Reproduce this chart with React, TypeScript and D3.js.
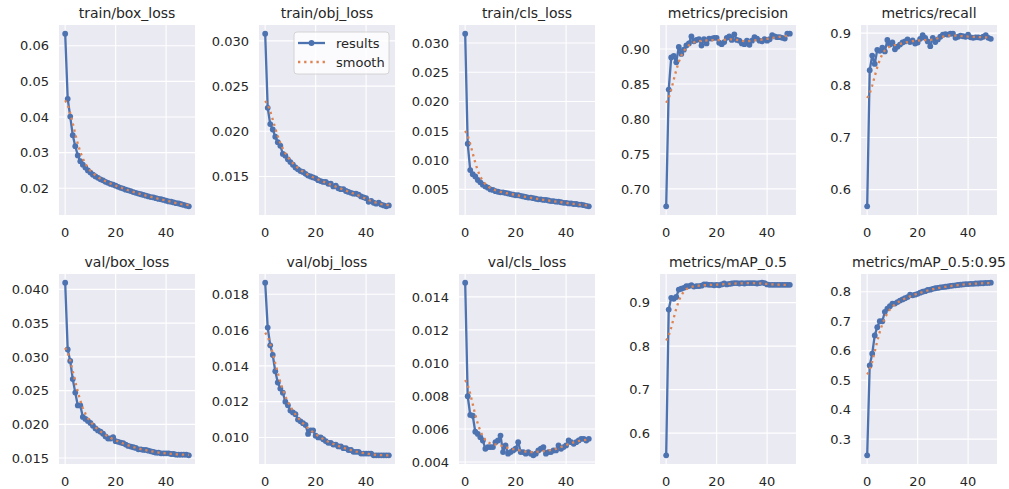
import React from "react";
import * as d3 from "d3";

// epochs 0..49
const epochs = d3.range(50);

const titles = [
  "train/box_loss", "train/obj_loss", "train/cls_loss", "metrics/precision", "metrics/recall",
  "val/box_loss", "val/obj_loss", "val/cls_loss", "metrics/mAP_0.5", "metrics/mAP_0.5:0.95",
];

const trainBox = [
  0.0634, 0.0451, 0.0401, 0.0349, 0.0318, 0.0292, 0.0276, 0.0266, 0.0258, 0.0250,
  0.0244, 0.0238, 0.0233, 0.0229, 0.0225, 0.0222, 0.0218, 0.0215, 0.0212, 0.0210,
  0.0207, 0.0204, 0.0201, 0.0199, 0.0196, 0.0194, 0.0192, 0.0189, 0.0187, 0.0185,
  0.0183, 0.0181, 0.0179, 0.0177, 0.0175, 0.0174, 0.0172, 0.0170, 0.0169, 0.0167,
  0.0165, 0.0163, 0.0162, 0.0160, 0.0158, 0.0157, 0.0155, 0.0153, 0.0151, 0.0149,
];
const trainObj = [
  0.0308, 0.0226, 0.0208, 0.0202, 0.0194, 0.0188, 0.0184, 0.0175, 0.0173, 0.0169,
  0.0166, 0.0163, 0.0160, 0.0158, 0.0156, 0.0155, 0.0153, 0.0151, 0.0150, 0.0149,
  0.0148, 0.0146, 0.0145, 0.0144, 0.0144, 0.0142, 0.0142, 0.0139, 0.0140, 0.0137,
  0.0136, 0.0136, 0.0134, 0.0133, 0.0132, 0.0131, 0.0131, 0.0130, 0.0128, 0.0127,
  0.0126, 0.0122, 0.0123, 0.0121, 0.0120, 0.0121, 0.0119, 0.0118, 0.0117, 0.0118,
];
const trainCls = [
  0.0316, 0.0128, 0.0083, 0.0076, 0.0072, 0.0066, 0.0062, 0.0058, 0.0055, 0.0053,
  0.0050, 0.0049, 0.0047, 0.0046, 0.0045, 0.0045, 0.0044, 0.0043, 0.0042, 0.0041,
  0.0040, 0.0040, 0.0039, 0.0038, 0.0037, 0.0036, 0.0036, 0.0035, 0.0034, 0.0033,
  0.0033, 0.0032, 0.0032, 0.0031, 0.0030, 0.0030, 0.0029, 0.0029, 0.0028, 0.0027,
  0.0027, 0.0026, 0.0026, 0.0025, 0.0025, 0.0024, 0.0024, 0.0023, 0.0022, 0.0021,
];
const precision = [
  0.675, 0.842, 0.888, 0.890, 0.881, 0.903, 0.893, 0.899, 0.905, 0.908,
  0.918, 0.911, 0.913, 0.914, 0.905, 0.914, 0.908, 0.915, 0.915, 0.916,
  0.916, 0.909, 0.907, 0.910, 0.916, 0.918, 0.913, 0.921, 0.913, 0.912,
  0.908, 0.907, 0.912, 0.906, 0.912, 0.917, 0.915, 0.912, 0.911, 0.914,
  0.912, 0.914, 0.920, 0.918, 0.917, 0.917, 0.916, 0.915, 0.922, 0.922,
];
const recall = [
  0.568, 0.829, 0.857, 0.841, 0.868, 0.866, 0.872, 0.865, 0.887, 0.878,
  0.882, 0.869, 0.874, 0.878, 0.882, 0.884, 0.888, 0.883, 0.886, 0.880,
  0.882, 0.889, 0.896, 0.891, 0.884, 0.875, 0.891, 0.883, 0.888, 0.893,
  0.897, 0.898, 0.897, 0.899, 0.899, 0.891, 0.893, 0.895, 0.894, 0.893,
  0.897, 0.892, 0.891, 0.892, 0.892, 0.891, 0.893, 0.896, 0.891, 0.889,
];
const valBox = [
  0.0410, 0.0311, 0.0294, 0.0267, 0.0247, 0.0228, 0.0228, 0.0211, 0.0208, 0.0205,
  0.0202, 0.0198, 0.0194, 0.0191, 0.0189, 0.0186, 0.0182, 0.0179, 0.0179, 0.0181,
  0.0175, 0.0174, 0.0173, 0.0172, 0.0170, 0.0168, 0.0167, 0.0166, 0.0165, 0.0163,
  0.0163, 0.0162, 0.0162, 0.0161, 0.0160, 0.0159, 0.0158, 0.0158, 0.0157, 0.0157,
  0.0157, 0.0157, 0.0156, 0.0156, 0.0155, 0.0155, 0.0155, 0.0155, 0.0155, 0.0154,
];
const valObj = [
  0.01865, 0.01614, 0.01515, 0.01461, 0.0137, 0.01307, 0.01273, 0.0125, 0.0120, 0.0118,
  0.0115, 0.0114, 0.0113, 0.0110, 0.0109, 0.0108, 0.0107, 0.0102, 0.0104, 0.0104,
  0.0101, 0.0100, 0.0100, 0.0099, 0.0098, 0.0097, 0.0097, 0.0096, 0.0096, 0.0095,
  0.0095, 0.0094, 0.0094, 0.0093, 0.0093, 0.0092, 0.0092, 0.0092, 0.0091, 0.0091,
  0.0091, 0.0091, 0.0091, 0.0090, 0.0090, 0.0090, 0.0090, 0.0090, 0.0090, 0.0090,
];
const valCls = [
  0.01486, 0.00798, 0.00685, 0.0068, 0.00583, 0.0057, 0.0055, 0.0053, 0.0048, 0.0049,
  0.0049, 0.0049, 0.0052, 0.0053, 0.0056, 0.0046, 0.0050, 0.0045, 0.0046, 0.0047,
  0.0048, 0.0052, 0.0046, 0.0046, 0.0045, 0.0046, 0.0045, 0.0044, 0.0045, 0.0047,
  0.0048, 0.0049, 0.0045, 0.0046, 0.0046, 0.0047, 0.0047, 0.0050, 0.0048, 0.0049,
  0.0050, 0.0053, 0.0052, 0.0051, 0.0052, 0.0053, 0.0054, 0.0054, 0.0053, 0.0054,
];
const map50 = [
  0.549, 0.884, 0.911, 0.909, 0.913, 0.930, 0.932, 0.934, 0.938, 0.938,
  0.940, 0.937, 0.938, 0.938, 0.939, 0.942, 0.942, 0.941, 0.941, 0.940,
  0.941, 0.940, 0.942, 0.944, 0.942, 0.943, 0.944, 0.945, 0.945, 0.944,
  0.945, 0.944, 0.945, 0.945, 0.945, 0.945, 0.944, 0.945, 0.946, 0.945,
  0.942, 0.941, 0.941, 0.941, 0.941, 0.941, 0.941, 0.941, 0.941, 0.941,
];
const map5095 = [
  0.245, 0.550, 0.590, 0.652, 0.680, 0.700, 0.700, 0.732, 0.743, 0.751,
  0.760, 0.760, 0.765, 0.770, 0.774, 0.778, 0.782, 0.790, 0.788, 0.790,
  0.793, 0.797, 0.800, 0.802, 0.806, 0.807, 0.810, 0.812, 0.813, 0.815,
  0.816, 0.817, 0.818, 0.820, 0.821, 0.822, 0.823, 0.824, 0.825, 0.826,
  0.826, 0.827, 0.827, 0.828, 0.828, 0.829, 0.829, 0.830, 0.830, 0.831,
];

const series = [trainBox, trainObj, trainCls, precision, recall, valBox, valObj, valCls, map50, map5095];

const yTickLabels = [
  ["0.02", "0.03", "0.04", "0.05", "0.06"],
  ["0.015", "0.020", "0.025", "0.030"],
  ["0.005", "0.010", "0.015", "0.020", "0.025", "0.030"],
  ["0.70", "0.75", "0.80", "0.85", "0.90"],
  ["0.6", "0.7", "0.8", "0.9"],
  ["0.015", "0.020", "0.025", "0.030", "0.035", "0.040"],
  ["0.010", "0.012", "0.014", "0.016", "0.018"],
  ["0.004", "0.006", "0.008", "0.010", "0.012", "0.014"],
  ["0.6", "0.7", "0.8", "0.9"],
  ["0.3", "0.4", "0.5", "0.6", "0.7", "0.8"],
];
const xTickLabels = ["0", "20", "40"];

// same as scipy gaussian_filter1d(y, sigma=3), mode 'reflect'
function gaussianSmooth(y: number[], sigma = 3) {
  const r = Math.floor(4 * sigma + 0.5);
  const w = d3.range(-r, r + 1).map((k) => Math.exp((-k * k) / (2 * sigma * sigma)));
  const sw = d3.sum(w);
  const n = y.length;
  const at = (i: number) => {
    let j = i;
    while (j < 0 || j >= n) {
      if (j < 0) j = -j - 1;
      if (j >= n) j = 2 * n - j - 1;
    }
    return y[j];
  };
  return y.map((_, i) => d3.sum(w.map((wk, k) => wk * at(i + k - r))) / sw);
}

const W = 1009;
const H = 489;
const colLeft = [59, 259, 459, 660, 861];
const rowTop = [25, 274];
const pw = 136;
const ph = 190;
const blue = "#4C72B0";
const orange = "#DD8452";
const textColor = "#262626";
const font = "DejaVu Sans, sans-serif";
const dots = "2.3 3.85";

function Panel({ idx }: { idx: number }) {
  const data = series[idx];
  const smooth = gaussianSmooth(data);
  const left = colLeft[idx % 5];
  const top = rowTop[Math.floor(idx / 5)];

  const x = d3.scaleLinear().domain([-2.45, 51.45]).range([0, pw]);
  const [lo, hi] = d3.extent([...data, ...smooth]) as [number, number];
  const pad = (hi - lo) * 0.05;
  const y = d3.scaleLinear().domain([lo - pad, hi + pad]).range([ph, 0]);

  const line = d3.line<number>().x((_, i) => x(epochs[i])).y((d) => y(d));

  return (
    <g transform={`translate(${left},${top})`}>
      <rect width={pw} height={ph} fill="#EAEAF2" />
      {xTickLabels.map((t) => (
        <g key={t}>
          <line x1={x(+t)} x2={x(+t)} y1={0} y2={ph} stroke="#fff" strokeWidth={1.1} />
          <text x={x(+t)} y={ph + 22} textAnchor="middle" fontSize={13} fill={textColor}>
            {t}
          </text>
        </g>
      ))}
      {yTickLabels[idx].map((t) => (
        <g key={t}>
          <line x1={0} x2={pw} y1={y(+t)} y2={y(+t)} stroke="#fff" strokeWidth={1.1} />
          <text x={-10} y={y(+t)} dy="0.36em" textAnchor="end" fontSize={13} fill={textColor}>
            {t}
          </text>
        </g>
      ))}
      <path d={line(data) ?? undefined} fill="none" stroke={blue} strokeWidth={2.3} strokeLinejoin="round" />
      {data.map((d, i) => (
        <circle key={i} cx={x(epochs[i])} cy={y(d)} r={2.9} fill={blue} />
      ))}
      <path d={line(smooth) ?? undefined} fill="none" stroke={orange} strokeWidth={2.3} strokeDasharray={dots} />
      <text x={pw / 2} y={-7} textAnchor="middle" fontSize={14} fill={textColor}>
        {titles[idx]}
      </text>
      {idx === 1 && (
        <g transform={`translate(${pw - 101},7)`}>
          <rect width={95} height={42} rx={3} fill="#fff" fillOpacity={0.8} stroke="#ccc" strokeWidth={0.8} />
          <line x1={4} x2={31} y1={11} y2={11} stroke={blue} strokeWidth={2.3} />
          <circle cx={17.5} cy={11} r={2.9} fill={blue} />
          <text x={42} y={11} dy="0.36em" fontSize={13} fill={textColor}>results</text>
          <line x1={4} x2={31} y1={30} y2={30} stroke={orange} strokeWidth={2.3} strokeDasharray={dots} />
          <text x={42} y={30} dy="0.36em" fontSize={13} fill={textColor}>smooth</text>
        </g>
      )}
    </g>
  );
}

export default function App() {
  return (
    <div style={{ position: "fixed", left: 0, top: 0 }}>
      <svg width={W} height={H} fontFamily={font} style={{ display: "block", background: "#fff" }}>
        {titles.map((_, i) => (
          <Panel key={i} idx={i} />
        ))}
      </svg>
    </div>
  );
}
